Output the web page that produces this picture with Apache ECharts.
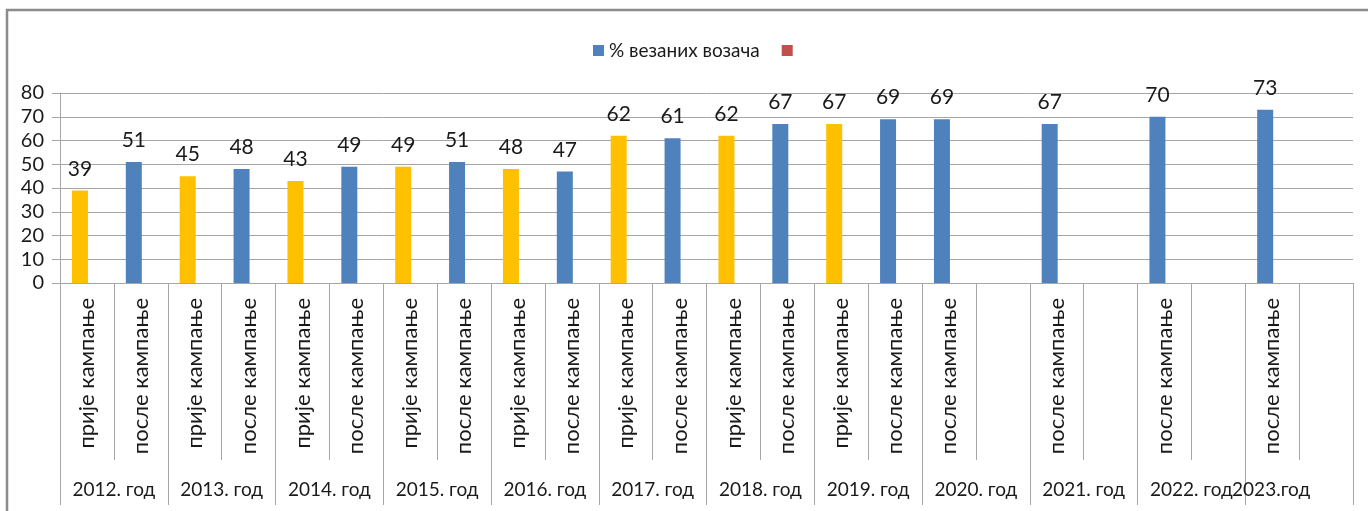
<!DOCTYPE html>
<html>
<head>
<meta charset="utf-8">
<script src="https://cdn.jsdelivr.net/npm/echarts@6/dist/echarts.min.js"></script>
<style>
  html, body { margin: 0; padding: 0; background: #fff; }
  #chart { width: 1368px; height: 511px; }
</style>
</head>
<body>
<div id="chart"></div>
<script>
// inner level: one slot per bar (24 slots)
const slots = [
  'прије кампање', 'после кампање', 'прије кампање', 'после кампање',
  'прије кампање', 'после кампање', 'прије кампање', 'после кампање',
  'прије кампање', 'после кампање', 'прије кампање', 'после кампање',
  'прије кампање', 'после кампање', 'прије кампање', 'после кампање',
  'после кампање', '', 'после кампање', '', 'после кампање', '', 'после кампање', ''
];
// outer level: years
const years = [
  '2012. год', '2013. год', '2014. год', '2015. год', '2016. год', '2017. год',
  '2018. год', '2019. год', '2020. год', '2021. год', '2022. год', '2023.год'
];
const values = [39, 51, 45, 48, 43, 49, 49, 51, 48, 47, 62, 61, 62, 67, 67, 69, 69, null, 67, null, 70, null, 73, null];
const yTicks = [0, 10, 20, 30, 40, 50, 60, 70, 80];

const BLUE = '#4F81BD';
const YELLOW = '#FFC000';
const RED = '#C0504D';
const GRID = '#A6A6A6';
const TXT = '#1a1a1a';
const FONT = 'Lato, "Noto Sans", sans-serif';

const chart = echarts.init(document.getElementById('chart'));

const barData = values.map((v, i) => {
  if (v === null) return '-';
  // "прије" bars are yellow
  return slots[i].startsWith('прије') ? { value: v, itemStyle: { color: YELLOW } } : v;
});

chart.setOption({
  animation: false,
  textStyle: { fontFamily: FONT },
  graphic: [{
    type: 'rect',
    shape: { x: 7, y: 10, width: 1420, height: 600 },
    style: { fill: 'none', stroke: '#8c8c8c', lineWidth: 2.5 },
    silent: true
  }],
  legend: {
    left: 588, top: 36,
    itemWidth: 11, itemHeight: 11, itemGap: 22,
    icon: 'rect',
    textStyle: { fontSize: 19, color: TXT, fontFamily: FONT },
    data: ['% везаних возача', ' ']
  },
  grid: { left: 60, right: 15, top: 93, bottom: 228 },
  xAxis: [{
    type: 'category',
    data: slots,
    position: 'bottom',
    axisLine: { lineStyle: { color: GRID } },
    axisTick: { show: true, interval: 0, length: 177, lineStyle: { color: GRID } },
    axisLabel: {
      interval: 0, rotate: 90, margin: 15,
      fontSize: 22, color: TXT, fontFamily: FONT
    }
  }, {
    type: 'category',
    data: years,
    position: 'bottom',
    axisLine: { show: false },
    axisTick: { show: true, interval: 0, length: 222, lineStyle: { color: GRID } },
    axisLabel: {
      interval: 0, margin: 197,
      fontSize: 19, color: TXT, fontFamily: FONT,
      formatter: v => v === '2023.год' ? '{s|' + v + '}' : v,
      rich: { s: { fontSize: 19, color: TXT, fontFamily: FONT, padding: [0, 56, 0, 0] } }
    }
  }],
  yAxis: {
    type: 'value',
    min: yTicks[0], max: yTicks[yTicks.length - 1], interval: 10,
    axisLine: { show: true, lineStyle: { color: GRID } },
    axisTick: { show: true, length: 8, lineStyle: { color: GRID } },
    splitLine: { lineStyle: { color: GRID } },
    axisLabel: { fontSize: 20, color: TXT, margin: 16, fontFamily: FONT }
  },
  series: [{
    name: '% везаних возача',
    type: 'bar',
    xAxisIndex: 0,
    data: barData,
    barWidth: 16,
    barGap: '-12.5%',
    itemStyle: { color: BLUE },
    label: {
      show: true, position: 'top', distance: 11,
      fontSize: 21, color: TXT, fontFamily: FONT
    }
  }, {
    name: ' ',
    type: 'bar',
    xAxisIndex: 0,
    data: values.map(() => '-'),
    barWidth: 16,
    itemStyle: { color: RED }
  }]
});
</script>
</body>
</html>
